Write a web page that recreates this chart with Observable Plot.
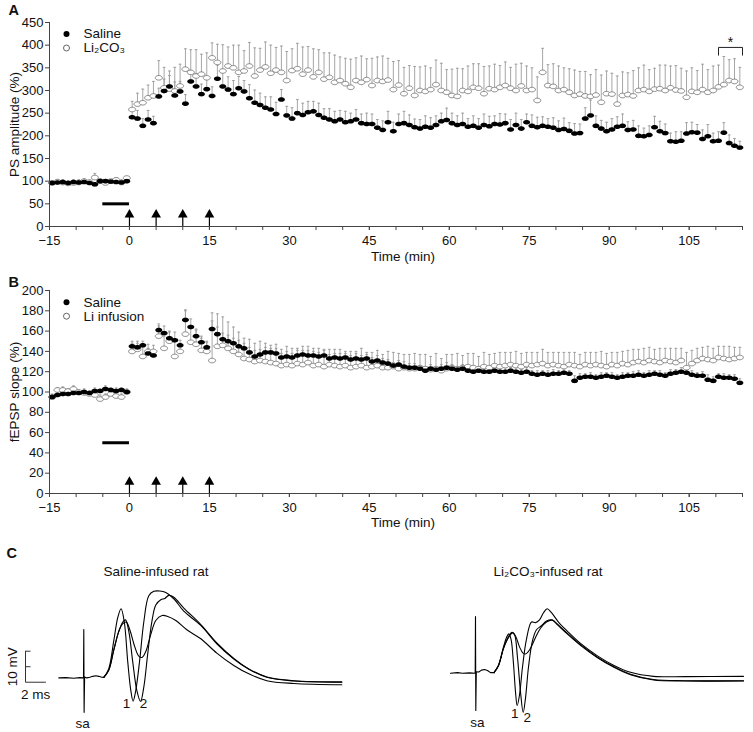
<!DOCTYPE html>
<html><head><meta charset="utf-8">
<script src="https://cdn.jsdelivr.net/npm/d3@7"></script>
<script src="https://cdn.jsdelivr.net/npm/@observablehq/plot@0.6"></script>
<style>
body{margin:0;background:#fff;}
#fig{width:753px;height:732px;overflow:hidden;}
#fig svg{display:block;}
#rowC{display:flex;}
</style></head><body>
<div id="fig"><div id="pA"></div><div id="pB"></div><div id="rowC"><div id="pC1"></div><div id="pC2"></div></div></div>
<script>
// ---------- sampling grid (minutes) ----------
const tStart = -14.5, tStep = 1;

// ---------- Panel A: PS amplitude (%) ----------
const psSaline = [
 96, 97, 98, 96, 98, 97, 98, 96, 93,100,
100, 99, 98, 97,100,241,238,222,236,228,
287,299,309,289,298,271,320,309,292,303,
288,326,309,302,292,305,298,283,273,268,
262,258,248,280,245,238,250,246,252,254,
246,240,236,232,236,230,232,236,228,226,
226,218,213,230,210,226,228,224,219,216,
220,218,224,232,235,228,224,226,220,222,
218,224,221,226,225,228,214,224,216,230,
222,219,222,220,218,213,215,211,205,206,
238,245,222,216,210,214,220,222,213,214,
200,199,202,219,210,206,188,187,189,205,
208,207,193,199,188,189,207,184,178,174];
const psSalineErr = [
 4, 5, 3, 4, 5, 3, 4, 5, 3, 4,
 4, 3, 5, 4, 3,14,18,16,20,15,
18,26,24,30,22,20,24,28,22,26,
20,30,32,28,30,26,24,30,28,26,
24,28,26,22,20,24,30,26,24,22,
26,20,24,22,20,24,18,22,20,24,
22,18,20,24,20,22,26,22,18,20,
24,22,20,18,26,22,20,24,18,22,
20,24,22,18,24,20,22,26,20,18,
24,22,20,18,22,20,24,18,22,20,
24,34,22,18,20,24,22,26,18,20,
22,18,20,24,22,20,18,22,20,24,
22,18,20,26,18,20,22,18,16,14];
const psLi = [
 96, 99, 97, 95, 96, 97,100, 98,108,100,
 96,100,103, 97,107,258,270,273,284,288,
328,306,303,299,310,347,340,332,336,328,
372,362,343,354,350,340,343,354,332,345,
352,338,345,340,322,344,348,336,345,330,
340,325,329,318,322,315,307,322,318,324,
311,322,320,323,302,312,293,305,289,300,
298,302,313,300,296,289,287,300,298,307,
305,293,304,302,307,311,305,300,310,300,
302,278,340,311,309,300,302,296,289,292,
288,287,290,274,293,292,270,289,291,288,
300,302,298,303,304,300,306,301,299,285,
298,296,302,296,300,308,313,322,320,307];
const psLiErr = [
 5, 4, 6, 5, 4, 6, 5, 4, 9, 5,
 6, 4, 5, 6, 3,18,24,30,28,32,
38,45,40,52,48,45,50,58,44,55,
33,40,58,42,50,60,45,52,62,48,
55,62,50,58,64,48,56,60,52,62,
50,58,54,60,52,56,62,50,58,46,
60,52,56,48,62,54,58,50,64,52,
56,48,54,60,50,58,62,48,56,52,
54,60,50,56,48,52,46,58,50,54,
48,52,53,46,50,54,48,52,56,50,
54,48,56,60,50,46,62,52,48,56,
50,54,48,46,52,56,48,54,50,58,
52,48,56,50,54,48,62,46,50,44];

// ---------- Panel B: fEPSP slope (%) ----------
const slopeSaline = [
 95, 97, 98, 98, 99, 99,100, 99,101,101,
103,102,101,102,100,145,144,146,138,136,
161,158,153,151,146,171,164,155,149,144,
162,157,152,150,148,145,143,139,135,137,
139,139,138,134,135,134,136,137,136,136,
135,136,133,134,133,134,132,133,132,133,
130,131,129,128,126,127,125,124,124,123,
121,123,122,123,124,123,122,123,121,120,
121,120,120,121,120,120,121,120,119,120,
118,117,118,117,118,118,119,118,111,114,
115,115,114,115,116,115,114,115,116,116,
117,116,117,118,117,116,118,119,120,119,
117,116,116,112,111,115,114,114,113,109];
const slopeSalineErr = [
 2, 3, 2, 2, 3, 2, 3, 2, 3, 2,
 3, 2, 3, 2, 3, 5, 6, 4, 5, 4,
 6, 7, 6, 8, 5,10, 8, 7, 6, 5,
 8, 7, 6, 6, 5, 6, 5, 5, 6, 5,
 5, 4, 5, 4, 5, 4, 5, 4, 5, 4,
 4, 5, 4, 4, 5, 4, 4, 5, 4, 4,
 4, 5, 4, 4, 3, 4, 5, 4, 4, 3,
 4, 4, 3, 4, 5, 4, 3, 4, 4, 3,
 4, 3, 4, 4, 3, 4, 3, 4, 3, 4,
 3, 4, 3, 4, 4, 3, 4, 3, 5, 4,
 3, 4, 3, 4, 3, 4, 3, 4, 3, 4,
 4, 3, 4, 3, 4, 3, 4, 3, 4, 3,
 4, 3, 4, 5, 4, 3, 4, 3, 4, 4];
const slopeLi = [
 95,102,102,101,103,100, 99, 98, 97, 93,
 95, 98, 96, 95,100,140,142,135,140,140,
155,143,150,135,140,157,149,147,141,140,
131,145,146,143,140,137,133,132,130,131,
130,129,128,126,127,126,128,127,129,126,
127,125,127,126,125,126,124,125,126,124,
125,126,124,124,125,123,124,123,123,124,
123,122,123,121,123,124,123,124,125,124,
123,125,124,126,125,126,127,126,125,127,
126,127,128,126,127,126,125,127,126,125,
127,126,127,126,125,127,126,128,127,129,
130,129,131,130,129,131,130,129,131,124,
128,131,133,132,131,134,133,132,133,134];
const slopeLiErr = [
 3, 2, 3, 2, 3, 2, 3, 2, 3, 4,
 3, 2, 4, 3, 2, 8, 6,10, 7, 6,
10,12,10,15, 8,23,15,14,12,10,
47,32,28,26,24,22,20,20,18,19,
18,17,19,16,18,17,15,18,16,17,
16,17,15,16,17,14,16,15,17,15,
14,15,13,16,14,15,13,14,15,13,
14,13,15,12,14,13,15,12,13,14,
12,14,13,12,14,13,12,14,13,12,
13,12,14,13,12,13,14,12,13,12,
12,13,12,14,13,12,13,12,14,13,
12,14,13,12,14,12,13,14,12,15,
13,12,11,13,12,11,12,13,11,10];

// ---------- shared annotations ----------
const tetanusTimes = [0, 5, 10, 15];
const infusionStart = -5, infusionEnd = 0, infusionLevel = 50;
const sigFrom = 110.5, sigTo = 115, sigLevel = 395, sigDrop = 378;
const xTicksLabeled = [-15, 0, 15, 30, 45, 60, 75, 90, 105];
const xTicksMinor = [-15,-10,-5,0,5,10,15,20,25,30,35,40,45,50,55,60,65,70,75,80,85,90,95,100,105,110,115];
const yTicksA = [0, 50, 100, 150, 200, 250, 300, 350, 400, 450];
const yTicksB = [0, 20, 40, 60, 80, 100, 120, 140, 160, 180, 200];

// ---------- Panel C: field potential traces (ms, mV; stimulus at 0 ms) ----------
const salPre = [[-2.5,0],[-1.8,0.1],[-1.0,-0.1],[-0.4,0.1],[-0.03,0],[0,15.6],[0.03,-11.1],[0.08,0.3],[0.3,0],[0.6,0.2],[0.9,0.5],[1.2,0.7],[1.5,0.5],[1.8,0.2],[2.0,0.15]];
const salTrace1 = [[2.0,0.15],[2.5,3],[3.0,12],[3.4,19.5],[3.73,22.3],[4.05,18],[4.4,5],[4.7,-4],[4.93,-7.5],[5.2,-4],[5.6,6],[6.0,18],[6.5,26.5],[7.0,27.9],[7.6,28.0],[8.2,27.5],[9.0,25.5],[10,21.5],[11.7,16.9],[13.3,11],[15,6.1],[16.5,2.8],[18.3,0.2],[21,-1.0],[25.8,-1.4]];
const salTrace2 = [[2.0,0.15],[2.5,2.5],[3.0,9],[3.5,15],[3.9,18],[4.17,18.7],[4.5,15],[4.9,5],[5.3,-4],[5.67,-7.6],[6.0,-3],[6.4,8],[6.8,18],[7.2,23.5],[7.7,25.2],[8.1,25.6],[8.5,26.6],[9.0,26],[10,22.5],[11.7,17.2],[13.3,11.3],[15,6.3],[16.5,2.9],[18.3,0.3],[21,-0.9],[25.8,-1.3]];
const salTrace3 = [[2.0,0.15],[2.5,2.5],[3.0,9],[3.5,15],[3.9,17.5],[4.25,18],[4.6,15.5],[5.1,10],[5.5,7],[5.83,6.6],[6.2,8.5],[6.7,14],[7.2,18.5],[7.83,20.1],[8.4,19.8],[9.2,18.5],[10.3,15.5],[11.7,12.6],[13.3,8],[15,4.0],[16.5,1.3],[18.3,-0.9],[21,-1.8],[25.8,-2.2]];
const liPre = [[-2.5,0],[-1.8,0.2],[-1.3,0],[-0.6,0.1],[-0.03,0],[0,18.3],[0.03,-12],[0.08,0.5],[0.33,0.4],[0.6,1.0],[0.9,1.2],[1.2,0.9],[1.5,0.2],[1.85,0.2]];
const liTrace1 = [[1.85,0.2],[2.3,2.5],[2.8,8.5],[3.1,11.5],[3.33,12.7],[3.55,11],[3.8,3],[4.0,-6],[4.17,-10.4],[4.4,-7],[4.7,2],[5.1,11],[5.6,16.5],[6.0,16.3],[6.4,17.2],[6.8,19.5],[7.17,20.8],[7.6,19.5],[8.3,16.5],[9.2,13.5],[10.5,9.6],[12.2,5.6],[13.8,2.6],[15.5,0.3],[17.8,-1.0],[21,-1.1],[26.8,-1.0]];
const liTrace2 = [[1.85,0.2],[2.3,2.5],[2.8,8],[3.3,11.8],[3.65,13.2],[3.9,12.5],[4.2,5],[4.5,-6],[4.77,-12.6],[5.0,-8],[5.3,2],[5.7,10.5],[6.1,14],[6.6,15.3],[7.1,16.8],[7.67,17.2],[8.2,15.8],[9.0,13.4],[10.5,9.2],[12.2,5.2],[13.8,2.2],[15.5,-0.3],[17.8,-2.0],[21,-2.4],[26.8,-2.4]];
const liTrace3 = [[1.85,0.2],[2.3,2.5],[2.8,8],[3.3,11.5],[3.7,13],[4.0,12],[4.4,8.5],[4.75,6.5],[5.0,6.2],[5.4,7.5],[6.0,11.5],[6.5,14.5],[7.1,16.5],[7.67,17.1],[8.2,15.6],[9.0,13.2],[10.5,9.0],[12.2,5.0],[13.8,2.0],[15.5,-0.5],[17.8,-2.2],[21,-2.5],[26.8,-2.5]];
const scaleBarOrigin = [-5.83, -1.4], scaleBarMs = 2, scaleBarMv = 10;

// ---------- helpers ----------
const font = "'Liberation Sans', Arial, Helvetica, sans-serif";
const baseStyle = {fontFamily: font, fontSize: "13px", color: "#111", background: "white", overflow: "visible"};
const errGrey = "#9c9c9c";
const minutes = psSaline.map((_, i) => tStart + i * tStep);
const capSymbol = {draw(ctx, size) { const r = Math.sqrt(size / Math.PI); ctx.moveTo(-r, 0); ctx.lineTo(r, 0); }};
const ellipseSymbol = {draw(ctx, size) {
  const r = Math.sqrt(size / Math.PI), rx = r * 1.3, ry = r * 0.85;
  ctx.moveTo(rx, 0);
  for (let k = 1; k < 28; k++) { const a = 2 * Math.PI * k / 28; ctx.lineTo(rx * Math.cos(a), ry * Math.sin(a)); }
  ctx.closePath();
}};
const fmtMinus = d => d < 0 ? "\u2212" + Math.abs(d) : String(d);

function timeCourse(o) {
  const sal = o.saline.map((v, i) => ({t: minutes[i], v, top: v + o.salineErr[i]}));
  const li = o.li.map((v, i) => ({t: minutes[i], v, top: v + o.liErr[i]}));
  const marks = [
    Plot.ruleX(li, {x: "t", y1: "v", y2: "top", stroke: errGrey, strokeWidth: 0.9}),
    Plot.dot(li, {x: "t", y: "top", symbol: capSymbol, r: 1.4, stroke: errGrey, fill: "none", strokeWidth: 0.9}),
    Plot.ruleX(sal, {x: "t", y1: "v", y2: "top", stroke: errGrey, strokeWidth: 0.9}),
    Plot.dot(sal, {x: "t", y: "top", symbol: capSymbol, r: 1.4, stroke: errGrey, fill: "none", strokeWidth: 0.9}),
    Plot.dot(li, {x: "t", y: "v", symbol: ellipseSymbol, r: 2.7, fill: "white", stroke: "#6a6a6a", strokeWidth: 0.8}),
    Plot.dot(sal, {x: "t", y: "v", symbol: ellipseSymbol, r: 2.7, fill: "black"}),
    Plot.ruleY([infusionLevel], {x1: () => infusionStart, x2: () => infusionEnd, stroke: "black", strokeWidth: 3}),
    Plot.ruleX(tetanusTimes, {y1: () => 0, y2: () => o.shaftTop, stroke: "black", strokeWidth: 1.2}),
    Plot.dot(tetanusTimes, {x: d => d, y: () => o.headY, symbol: "triangle", r: 3.6, fill: "black"}),
    Plot.ruleY([o.yDomain[0]], {stroke: "#444"}),
    Plot.ruleX([-15], {stroke: "#444"}),
    Plot.axisY({ticks: o.yTicks, tickSize: 4, tickPadding: 2, stroke: "#444", label: null, tickFormat: d => String(d), fontSize: 13}),
    Plot.axisX({ticks: xTicksMinor, tickSize: 4, stroke: "#444", tickFormat: () => "", label: null}),
    Plot.axisX({ticks: xTicksLabeled, tickSize: 4, tickPadding: 5, stroke: "#444", tickFormat: fmtMinus, label: null, fontSize: 13}),
    Plot.text(["Time (min)"], {frameAnchor: "bottom", dx: 7, dy: o.xLabelDy, lineAnchor: "middle", textAnchor: "middle", fontSize: 13.5}),
    Plot.text([o.yLabel], {frameAnchor: "left", dx: -35, rotate: -90, lineAnchor: "middle", textAnchor: "middle", fontSize: 13.5}),
    Plot.text([o.letter], {frameAnchor: "top-left", dx: -41, dy: o.letterDy, lineAnchor: "middle", textAnchor: "start", fontWeight: "bold", fontSize: 14.5}),
    Plot.dot([o.salineLabel], {frameAnchor: "top-left", dx: 17, dy: o.legendDy, r: 3, fill: "black"}),
    Plot.dot([o.liLabel], {frameAnchor: "top-left", dx: 17, dy: o.legendDy + 14, r: 3, fill: "white", stroke: "#555", strokeWidth: 0.9}),
    Plot.text([o.salineLabel], {frameAnchor: "top-left", dx: 34, dy: o.legendDy, lineAnchor: "middle", textAnchor: "start", fontSize: 13.5}),
    Plot.text([o.liLabel], {frameAnchor: "top-left", dx: 34, dy: o.legendDy + 14, lineAnchor: "middle", textAnchor: "start", fontSize: 13.5})
  ];
  if (o.sig) {
    marks.push(Plot.line([[sigFrom, sigDrop], [sigFrom, sigLevel], [sigTo, sigLevel], [sigTo, sigDrop]], {stroke: "#222", strokeWidth: 1}));
    marks.push(Plot.text(["*"], {x: () => (sigFrom + sigTo) / 2, y: () => sigLevel, dy: -5, fontSize: 14, lineAnchor: "middle"}));
  }
  return Plot.plot({
    width: 753, height: 265, marginLeft: 49, marginRight: 11, marginTop: o.marginTop, marginBottom: o.marginBottom,
    style: baseStyle,
    x: {domain: [-15, 115]},
    y: {domain: o.yDomain},
    marks
  });
}

document.getElementById("pA").append(timeCourse({
  saline: psSaline, salineErr: psSalineErr, li: psLi, liErr: psLiErr,
  yDomain: [0, 450], yTicks: yTicksA, yLabel: "PS amplitude (%)", letter: "A",
  salineLabel: "Saline", liLabel: "Li\u2082CO\u2083",
  marginTop: 22, marginBottom: 39, shaftTop: 22, headY: 26, xLabelDy: 30, letterDy: -12, legendDy: 11.5, sig: true
}));
document.getElementById("pB").append(timeCourse({
  saline: slopeSaline, salineErr: slopeSalineErr, li: slopeLi, liErr: slopeLiErr,
  yDomain: [0, 200], yTicks: yTicksB, yLabel: "fEPSP slope (%)", letter: "B",
  salineLabel: "Saline", liLabel: "Li infusion",
  marginTop: 25, marginBottom: 37, shaftTop: 9, headY: 11.5, xLabelDy: 29, letterDy: -8, legendDy: 11.7, sig: false
}));

function tracePlot(o) {
  const ext = d3.least(o.traces[0], d => d[1]);
  const ext2 = d3.least(o.traces[1], d => d[1]);
  const art = d3.least(o.pre, d => d[1]);
  const marks = [
    Plot.line(o.pre, {stroke: "black", strokeWidth: 1.1}),
    ...o.traces.map(tr => Plot.line(tr, {curve: "catmull-rom", stroke: "black", strokeWidth: 1.1})),
    Plot.text([art], {x: d => d[0], y: d => d[1], text: () => "sa", dx: o.saDx, dy: o.saDy, lineAnchor: "middle", fontSize: 13.5, fill: "#111"}),
    Plot.text([ext], {x: d => d[0], y: d => d[1], text: () => "1", dx: o.oneDx, dy: o.oneDy, lineAnchor: "middle", fontSize: 13.5, fill: "#111"}),
    Plot.text([ext2], {x: d => d[0], y: d => d[1], text: () => "2", dx: o.twoDx, dy: o.twoDy, lineAnchor: "middle", fontSize: 13.5, fill: "#111"}),
    Plot.text([o.title], {frameAnchor: "top-left", dx: o.titleDx, dy: 41, lineAnchor: "middle", textAnchor: "start", fontSize: 13.5})
  ];
  if (o.scaleBar) {
    const [x0, y0] = scaleBarOrigin;
    marks.push(
      Plot.line([[x0, y0 + scaleBarMv], [x0, y0], [x0 + scaleBarMs, y0]], {stroke: "#333", strokeWidth: 1}),
      Plot.link([y0 + scaleBarMv, y0 + scaleBarMv / 2], {x1: () => x0, x2: () => x0 + scaleBarMs / 4, y1: d => d, y2: d => d, stroke: "#333", strokeWidth: 1}),
      Plot.text(["10 mV"], {x: () => x0, y: () => y0 + scaleBarMv / 2, dx: -13, rotate: -90, lineAnchor: "middle", textAnchor: "middle", fontSize: 13.5}),
      Plot.text(["2 ms"], {x: () => x0 + scaleBarMs / 2, y: () => y0, dy: 12.5, lineAnchor: "middle", textAnchor: "middle", fontSize: 13.5}),
      Plot.text(["C"], {frameAnchor: "top-left", dx: 6, dy: 23, lineAnchor: "middle", textAnchor: "start", fontWeight: "bold", fontSize: 14.5})
    );
  }
  return Plot.plot({
    width: o.width, height: 202, margin: 0, style: baseStyle,
    x: {domain: o.xDomain, axis: null},
    y: {domain: o.yDomain, axis: null},
    marks
  });
}

document.getElementById("pC1").append(tracePlot({
  width: 376, xDomain: [-8.33, 29.27], yDomain: [-17.6, 47.5],
  pre: salPre, traces: [salTrace1, salTrace2, salTrace3], title: "Saline-infused rat", titleDx: 103,
  saDx: -1.5, saDy: 11, oneDx: -6.5, oneDy: 3, twoDx: 3, twoDy: 2.5, scaleBar: true
}));
document.getElementById("pC2").append(tracePlot({
  width: 377, xDomain: [-9.9, 27.8], yDomain: [-19.1, 46.0],
  pre: liPre, traces: [liTrace1, liTrace2, liTrace3], title: "Li\u2082CO\u2083-infused rat", titleDx: 117,
  saDx: 1.5, saDy: 12, oneDx: -2.5, oneDy: 8, twoDx: 4, twoDy: 5, scaleBar: false
}));
</script>
</body></html>
